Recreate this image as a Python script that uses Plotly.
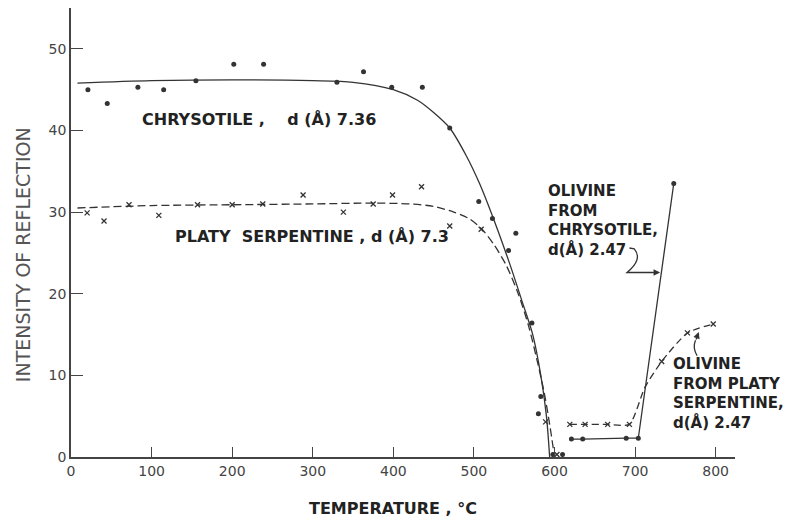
import plotly.graph_objects as go

# ---- data ----
chry_T = [21, 45, 83, 115, 155, 202, 239, 330, 363, 398, 436, 470, 506, 523, 543, 552, 572, 580, 583, 598, 610]
chry_I = [45.0, 43.3, 45.3, 45.0, 46.1, 48.1, 48.1, 45.9, 47.2, 45.3, 45.3, 40.3, 31.3, 29.2, 25.3, 27.4, 16.4, 5.3, 7.4, 0.3, 0.3]

platy_T = [20, 41, 72, 109, 157, 200, 238, 288, 338, 375, 399, 435, 470, 509, 589, 603]
platy_I = [29.9, 28.9, 30.9, 29.6, 30.9, 30.9, 31.0, 32.1, 30.0, 31.0, 32.1, 33.1, 28.3, 27.9, 4.3, 0.3]

chry_fit_T = [8, 100, 200, 300, 350, 400, 430, 450, 470, 490, 507, 525, 545, 560, 573, 583, 590, 594]
chry_fit_I = [45.8, 46.1, 46.2, 46.1, 45.9, 45.0, 43.7, 42.2, 40.3, 37.0, 33.5, 29.0, 23.5, 19.0, 15.0, 10.0, 5.0, 0.0]

platy_fit_T = [8, 100, 200, 300, 375, 420, 450, 475, 494, 510, 525, 540, 555, 568, 578, 587, 594, 600]
platy_fit_I = [30.5, 30.8, 30.9, 31.0, 31.1, 31.0, 30.7, 30.0, 29.2, 27.9, 26.0, 23.5, 20.0, 16.0, 12.0, 8.0, 4.0, 0.0]

oliv_chry_T = [621, 635, 689, 704, 748]
oliv_chry_I = [2.2, 2.2, 2.3, 2.3, 33.5]

oliv_platy_T = [619, 638, 666, 693, 712, 733, 765, 797]
oliv_platy_I = [4.0, 4.0, 4.0, 4.0, 8.5, 11.7, 15.2, 16.3]
oliv_platy_mark_T = [619, 638, 666, 693, 733, 765, 797]
oliv_platy_mark_I = [4.0, 4.0, 4.0, 4.0, 11.7, 15.2, 16.3]

x_ticks = [0, 100, 200, 300, 400, 500, 600, 700, 800]
y_ticks = [0, 10, 20, 30, 40, 50]

INK = "#333333"
FONT = "DejaVu Sans"

fig = go.Figure()

fig.add_trace(go.Scatter(x=chry_fit_T, y=chry_fit_I, mode="lines",
                         line=dict(color=INK, width=1.3, shape="spline", smoothing=0.8)))
fig.add_trace(go.Scatter(x=platy_fit_T, y=platy_fit_I, mode="lines",
                         line=dict(color=INK, width=1.3, shape="spline", smoothing=0.8, dash="8px,4px")))
fig.add_trace(go.Scatter(x=chry_T, y=chry_I, mode="markers",
                         marker=dict(symbol="circle", size=5, color=INK)))
fig.add_trace(go.Scatter(x=platy_T, y=platy_I, mode="markers",
                         marker=dict(symbol="x-thin-open", size=5, color=INK, line=dict(color=INK, width=1.3))))
fig.add_trace(go.Scatter(x=oliv_chry_T, y=oliv_chry_I, mode="lines+markers",
                         line=dict(color=INK, width=1.3),
                         marker=dict(symbol="circle", size=5, color=INK)))
fig.add_trace(go.Scatter(x=oliv_platy_T, y=oliv_platy_I, mode="lines",
                         line=dict(color=INK, width=1.3, shape="spline", smoothing=0.6, dash="7px,4px")))
fig.add_trace(go.Scatter(x=oliv_platy_mark_T, y=oliv_platy_mark_I, mode="markers",
                         marker=dict(symbol="x-thin-open", size=5, color=INK, line=dict(color=INK, width=1.3))))

lab = dict(family=FONT, size=16, color="#222222", weight="bold")
lab2 = dict(family=FONT, size=15, color="#222222", weight="bold")
NB = "\u00a0"

fig.add_annotation(x=86, y=41.3, xref="x", yref="y", xanchor="left", yanchor="middle",
                   text="CHRYSOTILE ," + NB * 4 + "d (Å) 7.36", showarrow=False, font=lab)
fig.add_annotation(x=126, y=27.0, xref="x", yref="y", xanchor="left", yanchor="middle",
                   text="PLATY" + NB * 2 + "SERPENTINE , d (Å) 7.3", showarrow=False, font=lab)
fig.add_annotation(x=589, y=29.0, xref="x", yref="y", xanchor="left", yanchor="middle", align="left",
                   text="OLIVINE<br>FROM<br>CHRYSOTILE,<br>d(Å) 2.47", showarrow=False, font=lab2)
fig.add_annotation(x=744, y=7.8, xref="x", yref="y", xanchor="left", yanchor="middle", align="left",
                   text="OLIVINE<br>FROM PLATY<br>SERPENTINE,<br>d(Å) 2.47", showarrow=False, font=lab2)

# leader squiggle + arrow for olivine from chrysotile
fig.add_shape(type="path", xref="x", yref="y",
              path="M 693,25.6 L 699,25.5 Q 710,24.2 690,22.6 L 726,22.6",
              line=dict(color=INK, width=1.3))
fig.add_annotation(x=731, y=22.6, ax=722, ay=22.6, xref="x", yref="y", axref="x", ayref="y",
                   text="", showarrow=True, arrowhead=2, arrowsize=1, arrowwidth=1.3, arrowcolor=INK)
# leader + arrow for olivine from platy serpentine
fig.add_shape(type="path", xref="x", yref="y",
              path="M 777,12.4 Q 771,13.4 775,14.3",
              line=dict(color=INK, width=1.3))
fig.add_annotation(x=779, y=15.3, ax=775, ay=14.2, xref="x", yref="y", axref="x", ayref="y",
                   text="", showarrow=True, arrowhead=2, arrowsize=1, arrowwidth=1.3, arrowcolor=INK)

# axis titles
fig.add_annotation(x=-0.072, y=0.45, xref="paper", yref="paper", textangle=-90,
                   xanchor="center", yanchor="middle",
                   text="INTENSITY OF REFLECTION", showarrow=False,
                   font=dict(family=FONT, size=19, color="#555555"))
fig.add_annotation(x=0.485, y=-0.114, xref="paper", yref="paper",
                   xanchor="center", yanchor="middle",
                   text="TEMPERATURE , °C", showarrow=False,
                   font=dict(family=FONT, size=16, color="#222222", weight="bold"))

# the page body adds an 8 px offset, so the figure is 8 px smaller than the window
fig.update_layout(
    width=786, height=512, autosize=False,
    margin=dict(l=63, r=59, t=0, b=63),
    paper_bgcolor="white", plot_bgcolor="white",
    showlegend=False,
    xaxis=dict(range=[0, 824], tickvals=x_ticks, ticktext=[str(v) for v in x_ticks],
               automargin=False,
               showgrid=False, zeroline=False, showline=True, linecolor="#444444", linewidth=1.5,
               ticks="inside", ticklen=10, tickwidth=1.3, tickcolor="#444444",
               tickfont=dict(family=FONT, size=14, color="#444444")),
    yaxis=dict(range=[0, 55], tickvals=y_ticks, ticktext=[str(v) for v in y_ticks],
               automargin=False,
               showgrid=False, zeroline=False, showline=True, linecolor="#444444", linewidth=1.5,
               ticks="inside", ticklen=12, tickwidth=1.3, tickcolor="#444444",
               tickfont=dict(family=FONT, size=14, color="#444444")),
)

fig.write_html("out.html")
